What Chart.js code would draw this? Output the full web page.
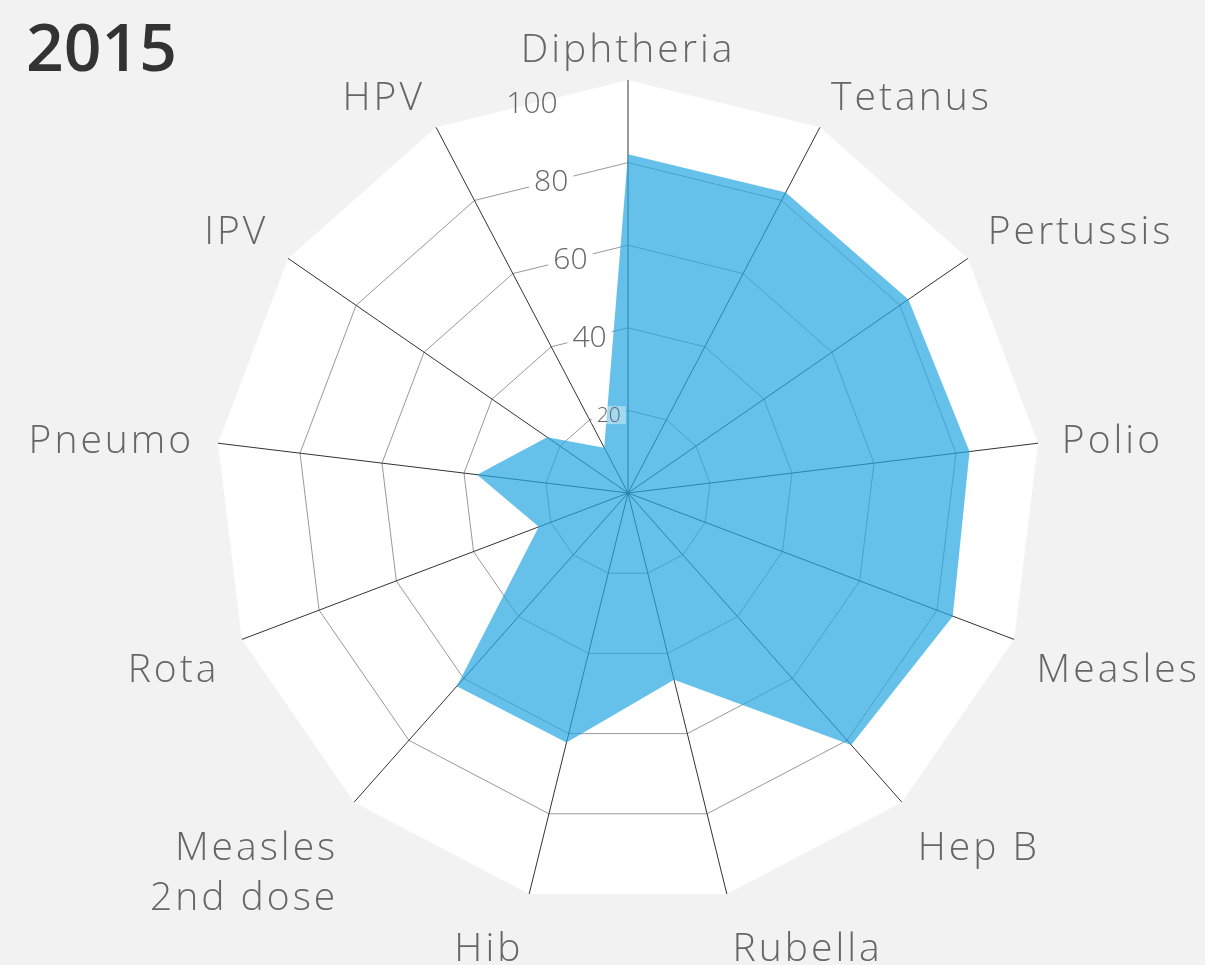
<!DOCTYPE html>
<html>
<head>
<meta charset="utf-8">
<script src="https://cdn.jsdelivr.net/npm/chart.js@4/dist/chart.umd.min.js"></script>
<style>
    html, body { margin: 0; padding: 0; background: #f2f2f2; overflow: hidden; }
    #wrap { position: relative; width: 1205px; height: 965px; }
</style>
</head>
<body>
<div id="wrap"><canvas id="radarChart"></canvas></div>
<script>
// ============================================
// DATA
// ============================================

const chartTitle = '2015';
const categories = ['Diphtheria', 'Tetanus', 'Pertussis', 'Polio', 'Measles', 'Hep B', 'Rubella', 'Hib',
    ['Measles', '2nd dose'], 'Rota', 'Pneumo', 'IPV', 'HPV'];
const coverage2015 = [82, 82.2, 82.5, 83.3, 84.1, 81.5, 46.6, 62.2, 62.5, 23.1, 36.8, 23.8, 12.4];
const tickValues = [20, 40, 60, 80, 100];

// ============================================
// STYLE
// ============================================

const LABEL_FONT = '300 39px "Open Sans", "DejaVu Sans", sans-serif';
const LABEL_COLOR = '#666666';
const GRID_COLOR = '#999999';
const AXIS_COLOR = '#333333';
const FILL_COLOR = 'rgba(35, 165, 225, 0.7)';
const LABEL_DIST = 437;

function tickFont(value) {
    return value === 20 ? '300 21px "Open Sans", sans-serif' : '300 30px "Open Sans", sans-serif';
}

// tick labels sit on the grid polygon, half way between HPV and Diphtheria
function tickPositions(scale) {
    const n = scale.chart.data.labels.length;
    return tickValues.map(v => {
        const dist = scale.getDistanceFromCenterForValue(v) * Math.cos(Math.PI / n);
        const p = scale.getPointPosition(-0.5, dist);
        return { value: v, x: p.x, y: p.y };
    });
}

function drawTickBackdrops(chart, alpha) {
    const ctx = chart.ctx;
    const scale = chart.scales.r;
    ctx.save();
    tickPositions(scale).forEach(t => {
        if (t.value === 100) return;
        ctx.font = tickFont(t.value);
        const w = ctx.measureText(String(t.value)).width + 10;
        const h = t.value === 20 ? 18 : 26;
        ctx.fillStyle = `rgba(255,255,255,${alpha})`;
        ctx.fillRect(t.x - w / 2, t.y - h / 2, w, h);
    });
    ctx.restore();
}

const radarExtras = {
    id: 'radarExtras',
    beforeDatasetsDraw(chart) {
        drawTickBackdrops(chart, 1);
    },
    afterDatasetsDraw(chart) {
        const ctx = chart.ctx;
        const scale = chart.scales.r;
        drawTickBackdrops(chart, 0.4);

        ctx.save();
        ctx.fillStyle = LABEL_COLOR;
        ctx.textAlign = 'center';
        ctx.textBaseline = 'middle';
        tickPositions(scale).forEach(t => {
            ctx.font = tickFont(t.value);
            ctx.fillText(String(t.value), t.x, t.y + 1);
        });

        // category labels round the outside
        ctx.font = LABEL_FONT;
        if ('letterSpacing' in ctx) ctx.letterSpacing = '3px';
        ctx.textBaseline = 'alphabetic';
        const R = scale.drawingArea;
        const cx = scale.xCenter, cy = scale.yCenter;
        chart.data.labels.forEach((label, i) => {
            const tip = scale.getPointPosition(i, R);
            const s = (tip.x - cx) / R;
            const c = (cy - tip.y) / R;
            let x = cx + LABEL_DIST * s;
            if (Math.abs(s) < 0.1) ctx.textAlign = 'center';
            else ctx.textAlign = s > 0 ? 'left' : 'right';
            let y;
            if (c > 0.2) y = cy - (LABEL_DIST - 15) * c - 9;        // above: box bottom on the ring
            else if (c < -0.2) y = cy - (LABEL_DIST + 16) * c + 28; // below: box top on the ring
            else y = cy - LABEL_DIST * c + 13;                       // sides: centred
            const lines = Array.isArray(label) ? label : [label];
            lines.forEach((line, k) => ctx.fillText(line, x, y + k * 50));
        });

        // title
        ctx.font = '600 66px "Open Sans", sans-serif';
        if ('letterSpacing' in ctx) ctx.letterSpacing = '0px';
        ctx.fillStyle = '#333333';
        ctx.textAlign = 'left';
        ctx.fillText(chartTitle, 26, 71);
        ctx.restore();
    }
};

// ============================================
// CHART
// ============================================

new Chart(document.getElementById('radarChart'), {
    type: 'radar',
    data: {
        labels: categories,
        datasets: [{
            label: chartTitle,
            data: coverage2015,
            backgroundColor: FILL_COLOR,
            borderWidth: 0,
            pointRadius: 0,
            pointHoverRadius: 0,
            fill: true
        }]
    },
    options: {
        responsive: true,
        maintainAspectRatio: false,
        animation: false,
        layout: {
            padding: { left: 215, right: 164, top: 80, bottom: 59 }
        },
        plugins: {
            legend: { display: false },
            tooltip: { enabled: false }
        },
        scales: {
            r: {
                min: 0,
                max: 100,
                backgroundColor: '#ffffff',
                ticks: { stepSize: 20, display: false },
                pointLabels: { display: false },
                grid: {
                    color: ctx => (ctx.tick && ctx.tick.value === 100 ? 'rgba(0,0,0,0)' : GRID_COLOR),
                    lineWidth: 1
                },
                angleLines: { color: AXIS_COLOR, lineWidth: 1 }
            }
        }
    },
    plugins: [radarExtras]
});
</script>
</body>
</html>
